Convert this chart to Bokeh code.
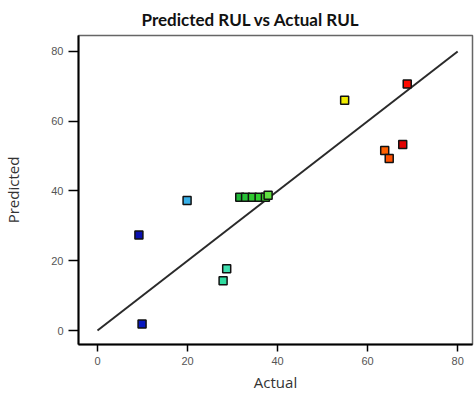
from bokeh.plotting import figure
from bokeh.models import ColumnDataSource, Range1d, FixedTicker
from bokeh.embed import file_html
from bokeh.resources import INLINE

# Data
actual = [9.2, 9.9, 19.9, 28.7, 27.9, 31.6, 32.9, 34.4, 35.9, 37.3, 37.9, 54.9, 63.8, 64.8, 67.8, 68.8]
predicted = [27.4, 1.9, 37.3, 17.7, 14.3, 38.2, 38.2, 38.2, 38.2, 38.2, 38.8, 66.0, 51.6, 49.3, 53.3, 70.7]
colors = ["#0a10b0", "#0818c0", "#38b0e8", "#40e0b0", "#30dca0", "#20b838", "#28c038", "#30c830",
          "#30d030", "#40d830", "#60e040", "#f0ec00", "#ff6000", "#ff5000", "#e00000", "#ff0a00"]
fit_x = [0, 80]
fit_y = [0, 80]
ticks = [0, 20, 40, 60, 80]

src = ColumnDataSource(data=dict(actual=actual, predicted=predicted, color=colors))

p = figure(width=474, height=394, output_backend="svg", toolbar_location=None,
           x_range=Range1d(-4.22, 83.3), y_range=Range1d(-4.0, 84.57),
           title="Predicted RUL vs Actual RUL",
           min_border_left=78, min_border_right=2, min_border_top=34, min_border_bottom=50)

p.title.text_font = "Lato"
p.title.text_font_size = "17px"
p.title.text_font_style = "bold"
p.title.text_color = "#111111"
p.title.align = "left"
p.title.offset = 63
p.title.standoff = 12

p.xgrid.visible = False
p.ygrid.visible = False
p.background_fill_color = "white"
p.border_fill_color = "white"
p.outline_line_color = "#666666"
p.outline_line_width = 1.5

p.line(fit_x, fit_y, line_color="#2a2a2a", line_width=2)
p.scatter("actual", "predicted", source=src, marker="square", size=8,
          fill_color="color", line_color="#111111", line_width=1.5)

for ax in (p.xaxis[0], p.yaxis[0]):
    ax.ticker = FixedTicker(ticks=ticks)
    ax.minor_tick_line_color = None
    ax.major_tick_in = 0
    ax.axis_line_color = "black"
    ax.axis_line_width = 2
    ax.major_tick_line_color = "black"
    ax.major_tick_line_width = 1.5
    ax.major_label_text_font = "Liberation Sans"
    ax.major_label_text_font_size = "11px"
    ax.major_label_text_color = "#555555"
    ax.axis_label_text_font = "Open Sans"
    ax.axis_label_text_font_size = "15px"
    ax.axis_label_text_font_style = "normal"
    ax.axis_label_text_color = "#333333"

p.xaxis.axis_label = "Actual"
p.yaxis.axis_label = "Predicted"
p.xaxis.major_tick_out = 7
p.yaxis.major_tick_out = 10
p.xaxis.major_label_standoff = 5
p.yaxis.major_label_standoff = 5
p.xaxis.axis_label_standoff = 4
p.yaxis.axis_label_standoff = 25

open("out.html", "w").write(file_html(p, INLINE))
